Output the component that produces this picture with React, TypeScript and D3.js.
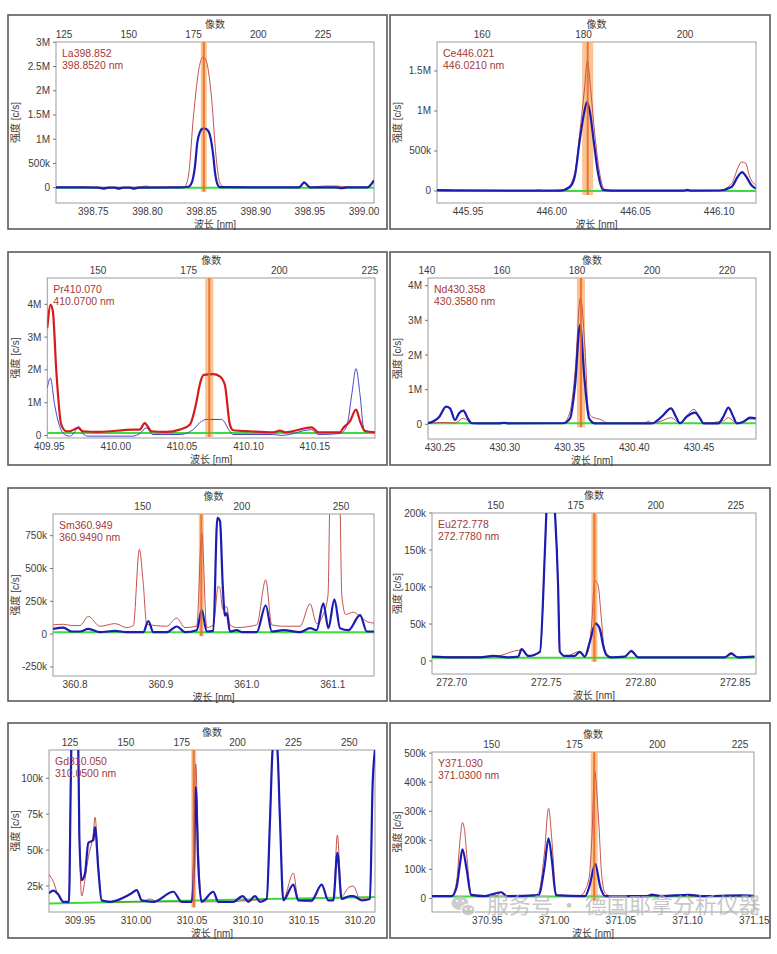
import { useRef, useEffect } from 'react';
import * as d3 from 'd3';

type Pt = [number, number]; // [wavelength nm, intensity kc/s]

// ---- La 398.852 ----
const laRed: Pt[] = [[398.7155, 10], [398.73, 12], [398.76, 8], [398.79, 10], [398.7993, 35], [398.803, 10], [398.834, 15], [398.8378, 240], [398.8424, 1460], [398.8479, 2500], [398.8516, 2700], [398.8545, 2600], [398.8593, 1820], [398.8633, 650], [398.8669, 100], [398.870, 20], [398.887, 15], [398.890, 8], [398.94, 8], [398.9425, 60], [398.9446, 100], [398.9475, 50], [398.95, 8], [398.958, 25], [398.965, 35], [398.972, 35], [398.98, 25], [398.99, 10], [399.003, 12], [399.0092, 150]];
const laBlue: Pt[] = [[398.7155, 5], [398.74, 5], [398.755, 0], [398.759, -18], [398.764, 2], [398.77, 0], [398.773, -18], [398.778, 2], [398.784, 0], [398.787, -18], [398.792, 2], [398.83, 5], [398.8378, 20], [398.8408, 100], [398.8439, 450], [398.846, 930], [398.8485, 1150], [398.8505, 1215], [398.853, 1220], [398.8555, 1190], [398.8578, 1070], [398.8608, 650], [398.8624, 310], [398.8645, 80], [398.867, 10], [398.94, 5], [398.9425, 60], [398.9446, 108], [398.9475, 55], [398.95, 5], [398.975, 5], [398.979, -12], [398.984, 5], [399.003, 8], [399.0092, 150]];
const laGreen: Pt[] = [[398.7155, 0], [399.0092, 0]];
const laWaveTicks = [398.75, 398.80, 398.85, 398.90, 398.95, 399.00];
const laPixelTicks = [125, 150, 175, 200, 225];
const laYTicks = [0, 500, 1000, 1500, 2000, 2500, 3000];

// ---- Ce 446.021 ----
const ceRed: Pt[] = [[445.9315, 8], [445.934, 18], [445.938, 18], [445.941, 6], [445.99, 5], [445.992, 14], [445.995, 5], [446.008, 15], [446.0137, 217], [446.0167, 717], [446.0197, 1300], [446.0213, 1630], [446.0233, 1260], [446.0257, 717], [446.0287, 217], [446.0317, 15], [446.035, 8], [446.10, 8], [446.1074, 90], [446.1114, 300], [446.1133, 362], [446.1157, 350], [446.1183, 175], [446.1219, 71]];
const ceBlue: Pt[] = [[445.9315, 10], [445.94, 7], [445.99, 5], [446.005, 5], [446.0108, 50], [446.0137, 175], [446.0167, 630], [446.0193, 970], [446.0211, 1110], [446.0227, 1000], [446.0253, 590], [446.0277, 220], [446.0307, 15], [446.036, 5], [446.079, 5], [446.081, 14], [446.083, 5], [446.10, 6], [446.1074, 50], [446.111, 175], [446.1137, 237], [446.1163, 175], [446.1193, 71], [446.1219, 30]];
const ceGreen: Pt[] = [[445.9315, 0], [446.1219, 0]];
const ceWaveTicks = [445.95, 446.00, 446.05, 446.10];
const cePixelTicks = [160, 180, 200];
const ceYTicks = [0, 500, 1000, 1500];

// ---- Pr 410.070 ----
const prRed: Pt[] = [[409.9485, 3270], [409.951, 3980], [409.9527, 3780], [409.9553, 1960], [409.959, 330], [409.9628, 130], [409.9653, 130], [409.9716, 230], [409.9753, 130], [409.9879, 110], [410.013, 180], [410.0181, 180], [410.0219, 380], [410.0269, 130], [410.0382, 110], [410.0483, 180], [410.0558, 330], [410.0609, 1040], [410.0633, 1550], [410.0664, 1850], [410.0734, 1870], [410.0784, 1800], [410.0822, 1550], [410.086, 330], [410.0885, 160], [410.1011, 130], [410.1187, 100], [410.1237, 150], [410.128, 100], [410.1476, 250], [410.1526, 100], [410.1689, 100], [410.1714, 230], [410.1765, 440], [410.181, 790], [410.184, 440], [410.1878, 130], [410.1953, 100]];
const prBlue: Pt[] = [[409.9485, 1450], [409.9508, 1750], [409.954, 940], [409.9578, 280], [409.9615, 30], [409.9653, -20], [409.9704, 180], [409.9721, 280], [409.9753, 60], [409.9791, -20], [410.013, -20], [410.0181, 60], [410.0231, 230], [410.0281, 30], [410.0483, 30], [410.0583, 180], [410.0633, 390], [410.0684, 490], [410.0797, 490], [410.086, 130], [410.0885, 30], [410.1187, 30], [410.125, 0], [410.1476, 180], [410.1526, 30], [410.1689, 60], [410.174, 280], [410.1778, 1250], [410.181, 2040], [410.184, 1250], [410.187, 180], [410.1953, 80]];
const prGreen: Pt[] = [[409.9485, 80], [410.1953, 80]];
const prWaveTicks = [409.95, 410.00, 410.05, 410.10, 410.15];
const prPixelTicks = [150, 175, 200, 225];
const prYTicks = [0, 1000, 2000, 3000, 4000];

// ---- Nd 430.358 ----
const ndRed: Pt[] = [[430.2407, 30], [430.2546, 55], [430.2616, 40], [430.268, 173], [430.2745, 35], [430.345, 30], [430.3504, 366], [430.3543, 1520], [430.3584, 3650], [430.3618, 2290], [430.3644, 462], [430.3671, 221], [430.3749, 125], [430.3795, 30], [430.4083, 40], [430.4108, 96], [430.4134, 35], [430.4212, 100], [430.4284, 192], [430.4353, 35], [430.4405, 250], [430.4461, 433], [430.4534, 35], [430.4688, 100], [430.4727, 192], [430.4792, 35], [430.4843, 70], [430.4894, 154], [430.4938, 154]];
const ndBlue: Pt[] = [[430.2407, 30], [430.2495, 220], [430.2546, 510], [430.2577, 460], [430.2616, 125], [430.2647, 320], [430.268, 395], [430.2714, 170], [430.2745, 30], [430.295, 25], [430.2995, 45], [430.303, 25], [430.345, 30], [430.3504, 173], [430.3543, 1140], [430.3581, 2870], [430.3615, 1330], [430.3651, 173], [430.3697, 29], [430.4134, 25], [430.4212, 221], [430.4284, 462], [430.432, 230], [430.4353, 29], [430.4405, 221], [430.4469, 337], [430.4508, 170], [430.4534, 29], [430.4649, 29], [430.4688, 221], [430.4727, 481], [430.4765, 221], [430.4792, 29], [430.4843, 77], [430.4894, 192], [430.4938, 173]];
const ndGreen: Pt[] = [[430.2407, 30], [430.4938, 30]];
const ndWaveTicks = [430.25, 430.30, 430.35, 430.40, 430.45];
const ndPixelTicks = [140, 160, 180, 200, 220];
const ndYTicks = [0, 1000, 2000, 3000, 4000];

// ---- Sm 360.949 ----
const smRed: Pt[] = [[360.7744, 70], [360.7864, 75], [360.7962, 65], [360.8058, 65], [360.8155, 135], [360.8291, 60], [360.8466, 80], [360.8602, 50], [360.8679, 65], [360.8749, 645], [360.8795, 380], [360.8834, 75], [360.9067, 60], [360.9184, 122], [360.928, 50], [360.9417, 60], [360.9475, 770], [360.9533, 50], [360.961, 70], [360.9668, 365], [360.9688, 350], [360.9719, 190], [360.9766, 210], [360.9804, 70], [360.9882, 50], [361.0115, 70], [361.022, 414], [361.029, 70], [361.0425, 60], [361.0619, 60], [361.0736, 231], [361.0813, 80], [361.089, 150], [361.0945, 300], [361.0965, 1000], [361.1025, 2200], [361.1085, 1000], [361.1105, 300], [361.115, 150], [361.124, 167], [361.1318, 135], [361.1396, 97], [361.1481, 84]];
const smBlue: Pt[] = [[360.7744, 40], [360.7864, 50], [360.7962, 20], [360.8058, 20], [360.8155, 40], [360.8291, 15], [360.8466, 25], [360.8602, 15], [360.8795, 15], [360.8853, 100], [360.8912, 15], [360.9067, 15], [360.9184, 58], [360.928, 15], [360.9417, 30], [360.9475, 185], [360.9533, 20], [360.961, 25], [360.9657, 885], [360.9688, 860], [360.9719, 380], [360.9746, 140], [360.9766, 160], [360.9804, 20], [360.9882, 30], [360.995, 15], [361.0115, 15], [361.022, 220], [361.029, 20], [361.0425, 30], [361.0619, 15], [361.0736, 45], [361.0813, 30], [361.089, 235], [361.0949, 45], [361.1019, 265], [361.1085, 45], [361.1182, 30], [361.1318, 145], [361.1396, 20], [361.1481, 20]];
const smGreen: Pt[] = [[360.7744, 15], [361.1481, 15]];
const smWaveTicks = [360.8, 360.9, 361.0, 361.1];
const smPixelTicks = [150, 200, 250];
const smYTicks = [-250, 0, 250, 500, 750];

// ---- Eu 272.778 ----
const euRed: Pt[] = [[272.6896, 6], [272.71, 6], [272.722, 6], [272.737, 15], [272.7405, 6], [272.7467, 12], [272.7493, 147], [272.7507, 240], [272.7521, 300], [272.7537, 240], [272.7563, 102], [272.7572, 12], [272.7599, 6], [272.7678, 13], [272.7704, 6], [272.7722, 12.5], [272.774, 48], [272.7757, 109], [272.7775, 102], [272.7792, 57], [272.781, 12.5], [272.7845, 5], [272.792, 6], [272.7951, 14.8], [272.7986, 5], [272.844, 5], [272.8479, 11.6], [272.8514, 5], [272.8602, 6]];
const euBlue: Pt[] = [[272.6896, 6], [272.70, 5], [272.715, 5], [272.722, 7], [272.73, 5], [272.7352, 6], [272.737, 16], [272.7405, 7], [272.7467, 12.5], [272.7493, 147], [272.7507, 240], [272.7521, 300], [272.7537, 240], [272.7563, 102], [272.7572, 13], [272.7599, 7], [272.7651, 7], [272.7678, 12.5], [272.7704, 6], [272.7731, 26], [272.7761, 50.6], [272.7783, 44], [272.7801, 21.5], [272.782, 8], [272.7845, 5], [272.7915, 6], [272.7951, 13.4], [272.7986, 5], [272.8444, 5], [272.8479, 10], [272.8514, 5], [272.8602, 6]];
const euGreen: Pt[] = [[272.6896, 4.5], [272.8602, 4.5]];
const euWaveTicks = [272.70, 272.75, 272.80, 272.85];
const euPixelTicks = [150, 175, 200, 225];
const euYTicks = [0, 50, 100, 150, 200];

// ---- Gd 310.050 ----
const gdRed: Pt[] = [[309.9223, 33], [309.9262, 28], [309.9307, 18], [309.9351, 14], [309.9401, 13], [309.9418, 100], [309.9435, 175], [309.9455, 200], [309.9476, 175], [309.9494, 60], [309.9515, 18], [309.9545, 30], [309.9574, 45], [309.9619, 62], [309.9634, 73], [309.9664, 40], [309.9693, 15], [309.98, 14], [309.995, 14], [310.005, 14], [310.012, 16], [310.02, 14], [310.0497, 14], [310.0518, 60], [310.0533, 110], [310.0557, 50], [310.0586, 14], [310.07, 14], [310.1167, 16], [310.1196, 70], [310.122, 120], [310.1241, 128], [310.1262, 120], [310.1286, 70], [310.1315, 16], [310.1405, 34], [310.1449, 15], [310.1568, 14], [310.1658, 26], [310.1717, 15], [310.1762, 15], [310.1798, 60.5], [310.1836, 18], [310.19, 24], [310.194, 25], [310.20, 16], [310.2089, 16], [310.2113, 96], [310.2134, 120]];
const gdBlue: Pt[] = [[309.9223, 20], [309.9262, 21.8], [309.9307, 19], [309.9351, 14], [309.9401, 14], [309.9418, 100], [309.9435, 175], [309.9455, 200], [309.9476, 175], [309.9494, 60], [309.9515, 29], [309.9545, 34], [309.9574, 55], [309.9619, 57], [309.9634, 66], [309.9664, 36], [309.9693, 15], [309.9768, 14], [309.9917, 18], [309.9961, 20], [310.0006, 22.2], [310.0051, 15], [310.0155, 14], [310.0333, 21], [310.0408, 14], [310.0497, 14], [310.0518, 38], [310.0533, 94], [310.0557, 38], [310.0586, 14], [310.069, 21], [310.0735, 14], [310.0869, 14], [310.0952, 18], [310.1003, 14], [310.1063, 18], [310.1107, 14], [310.1167, 16], [310.1196, 70], [310.122, 120], [310.1241, 128], [310.1262, 120], [310.1286, 70], [310.1315, 15], [310.1405, 26], [310.1449, 15], [310.1568, 15], [310.1658, 26], [310.1717, 15], [310.1762, 15], [310.1798, 48], [310.1836, 16], [310.1911, 18], [310.194, 18], [310.2015, 15], [310.2089, 16], [310.2113, 96], [310.2134, 120]];
const gdGreen: Pt[] = [[309.9223, 12.9], [310.2134, 17.4]];
const gdWaveTicks = [309.95, 310.00, 310.05, 310.10, 310.15, 310.20];
const gdPixelTicks = [125, 150, 175, 200, 225, 250];
const gdYTicks = [25, 50, 75, 100];

// ---- Y 371.030 ----
const yRed: Pt[] = [[370.9085, 8], [370.9233, 10], [370.927, 60], [370.9295, 200], [370.9313, 261], [370.933, 230], [370.9345, 150], [370.9378, 15], [370.940, 9], [370.957, 9], [370.9603, 21], [370.9645, 9], [370.985, 10], [370.9883, 20], [370.9928, 160], [370.9958, 310], [370.9983, 200], [371.0013, 20], [371.004, 9], [371.02, 10], [371.0233, 29], [371.0263, 75], [371.0283, 212], [371.0303, 437], [371.0333, 270], [371.0357, 75], [371.0383, 17], [371.042, 9], [371.068, 9], [371.0733, 15], [371.078, 9], [371.1497, 9]];
const yBlue: Pt[] = [[370.9085, 8], [370.9233, 8], [370.927, 40], [370.9295, 120], [370.9313, 169], [370.9345, 98], [370.9378, 12], [370.9483, 8], [370.9603, 21], [370.9645, 8], [370.9883, 11], [370.9928, 109], [370.9958, 207], [370.9983, 132], [371.0013, 11], [371.0233, 8], [371.0263, 40], [371.0308, 118], [371.0345, 40], [371.0383, 8], [371.07, 8], [371.0733, 12], [371.08, 8], [371.1008, 12], [371.11, 8], [371.14, 10], [371.1497, 9]];
const yGreen: Pt[] = [[370.9085, 6], [371.1497, 6]];
const yWaveTicks = [370.95, 371.00, 371.05, 371.10, 371.15];
const yPixelTicks = [150, 175, 200, 225];
const yYTicks = [0, 100, 200, 300, 400, 500];

interface Panel {
    id: string;
    title: string;
    sub: string;
    center: number;
    halfBand: number;
    frame: [number, number, number, number];
    plot: [number, number, number, number];
    wave: [number, number];
    pixel: [number, number];
    yDomain: [number, number];
    waveTicks: number[];
    waveDigits: number;
    pixelTicks: number[];
    yTicks: number[];
    red: Pt[];
    blue: Pt[];
    green: Pt[];
    redBold?: boolean;
}

const panels: Panel[] = [
    { id: 'la', title: 'La398.852', sub: '398.8520 nm', center: 398.852, halfBand: 0.0028,
      frame: [8, 15, 379, 214], plot: [56, 42, 374, 203], wave: [398.7155, 399.0092], pixel: [121.9, 244.7], yDomain: [-316, 3006],
      waveTicks: laWaveTicks, waveDigits: 2, pixelTicks: laPixelTicks, yTicks: laYTicks, red: laRed, blue: laBlue, green: laGreen },
    { id: 'ce', title: 'Ce446.021', sub: '446.0210 nm', center: 446.0215, halfBand: 0.0033,
      frame: [390, 15, 380, 214], plot: [437, 42, 756, 203], wave: [445.9315, 446.122], pixel: [151.1, 214.0], yDomain: [-150, 1862],
      waveTicks: ceWaveTicks, waveDigits: 2, pixelTicks: cePixelTicks, yTicks: ceYTicks, red: ceRed, blue: ceBlue, green: ceGreen },
    { id: 'pr', title: 'Pr410.070', sub: '410.0700 nm', center: 410.0705, halfBand: 0.0031,
      frame: [8, 252, 379, 213], plot: [47.3, 278, 375, 438], wave: [409.9485, 410.1953], pixel: [136.0, 226.4], yDomain: [-76, 4802],
      waveTicks: prWaveTicks, waveDigits: 2, pixelTicks: prPixelTicks, yTicks: prYTicks, red: prRed, blue: prBlue, green: prGreen, redBold: true },
    { id: 'nd', title: 'Nd430.358', sub: '430.3580 nm', center: 430.3588, halfBand: 0.0031,
      frame: [390, 252, 380, 213], plot: [428, 278, 756, 439], wave: [430.2407, 430.494], pixel: [140.3, 227.7], yDomain: [-424, 4222],
      waveTicks: ndWaveTicks, waveDigits: 2, pixelTicks: ndPixelTicks, yTicks: ndYTicks, red: ndRed, blue: ndBlue, green: ndGreen },
    { id: 'sm', title: 'Sm360.949', sub: '360.9490 nm', center: 360.947, halfBand: 0.0029,
      frame: [8, 488, 379, 213], plot: [53, 514, 374, 676], wave: [360.7744, 361.148], pixel: [104.8, 266.6], yDomain: [-319, 915],
      waveTicks: smWaveTicks, waveDigits: 1, pixelTicks: smPixelTicks, yTicks: smYTicks, red: smRed, blue: smBlue, green: smGreen },
    { id: 'eu', title: 'Eu272.778', sub: '272.7780 nm', center: 272.7755, halfBand: 0.0016,
      frame: [390, 488, 380, 213], plot: [432, 513, 756, 674], wave: [272.6896, 272.861], pixel: [130.1, 231.3], yDomain: [-17.5, 200],
      waveTicks: euWaveTicks, waveDigits: 2, pixelTicks: euPixelTicks, yTicks: euYTicks, red: euRed, blue: euBlue, green: euGreen },
    { id: 'gd', title: 'Gd310.050', sub: '310.0500 nm', center: 310.0515, halfBand: 0.0022,
      frame: [8, 723, 379, 215], plot: [49, 750, 375, 912], wave: [309.9223, 310.2134], pixel: [115.6, 261.5], yDomain: [6.9, 119.7],
      waveTicks: gdWaveTicks, waveDigits: 2, pixelTicks: gdPixelTicks, yTicks: gdYTicks, red: gdRed, blue: gdBlue, green: gdGreen },
    { id: 'y', title: 'Y371.030', sub: '371.0300 nm', center: 371.030, halfBand: 0.0026,
      frame: [390, 723, 380, 215], plot: [432, 752, 754, 912], wave: [370.9085, 371.1497], pixel: [132.0, 229.2], yDomain: [-47, 504],
      waveTicks: yWaveTicks, waveDigits: 2, pixelTicks: yPixelTicks, yTicks: yYTicks, red: yRed, blue: yBlue, green: yGreen },
];

const FONT = "'Liberation Sans', Arial, 'Noto Sans CJK SC', sans-serif";

const fmtIntensity = (v: number) => {
    if (v === 0) return '0';
    if (Math.abs(v) >= 1000) return `${v / 1000}M`;
    return `${v}k`;
};

function drawPanel(svg: d3.Selection<SVGSVGElement, unknown, null, undefined>, p: Panel) {
    const [fx, fy, fw, fh] = p.frame;
    const [x0, y0, x1, y1] = p.plot;
    const g = svg.append('g');

    g.append('rect')
        .attr('x', fx).attr('y', fy).attr('width', fw).attr('height', fh)
        .attr('fill', '#fff').attr('stroke', '#5a5a5a').attr('stroke-width', 1.6);

    const x = d3.scaleLinear().domain(p.wave).range([x0, x1]);
    const xp = d3.scaleLinear().domain(p.pixel).range([x0, x1]);
    const y = d3.scaleLinear().domain(p.yDomain).range([y1, y0]);

    g.append('rect')
        .attr('x', x0).attr('y', y0).attr('width', x1 - x0).attr('height', y1 - y0)
        .attr('fill', '#fff').attr('stroke', '#9c9c9c').attr('stroke-width', 1);

    g.append('clipPath').attr('id', `clip-${p.id}`)
        .append('rect').attr('x', x0).attr('y', y0).attr('width', x1 - x0).attr('height', y1 - y0);
    const inner = g.append('g').attr('clip-path', `url(#clip-${p.id})`);

    // integration window
    const base = y(p.green[0][1]) + 4;
    inner.append('rect')
        .attr('x', x(p.center - p.halfBand)).attr('y', y0)
        .attr('width', x(p.center + p.halfBand) - x(p.center - p.halfBand))
        .attr('height', base - y0)
        .attr('fill', '#f8bb82').attr('opacity', 0.85);

    const straight = d3.line<Pt>().x(d => x(d[0])).y(d => y(d[1]));
    const smooth = d3.line<Pt>().x(d => x(d[0])).y(d => y(d[1])).curve(d3.curveMonotoneX);

    inner.append('path').datum(p.green)
        .attr('d', straight).attr('fill', 'none')
        .attr('stroke', '#3ddc3d').attr('stroke-width', 2);

    const thin = p.redBold
        ? { data: p.blue, color: '#4646c6', width: 1 }
        : { data: p.red, color: '#c4524c', width: 1 };
    const thick = p.redBold
        ? { data: p.red, color: '#d41b1b', width: 2.2 }
        : { data: p.blue, color: '#1c1cb2', width: 2.2 };
    [thin, thick].forEach(s => {
        inner.append('path').datum(s.data)
            .attr('d', smooth).attr('fill', 'none')
            .attr('stroke', s.color).attr('stroke-width', s.width)
            .attr('stroke-linejoin', 'round');
    });

    inner.append('line')
        .attr('x1', x(p.center)).attr('x2', x(p.center))
        .attr('y1', y0).attr('y2', base)
        .attr('stroke', '#ee6a24').attr('stroke-width', 2).attr('opacity', 0.9);

    // element label
    g.append('text').attr('x', x0 + 6).attr('y', y0 + 15)
        .attr('font-family', FONT).attr('font-size', 10.5).attr('fill', '#a53a34')
        .text(p.title);
    g.append('text').attr('x', x0 + 6).attr('y', y0 + 27)
        .attr('font-family', FONT).attr('font-size', 10.5).attr('fill', '#a53a34')
        .text(p.sub);

    const txt = (sel: d3.Selection<SVGGElement, unknown, null, undefined>) =>
        sel.append('text')
            .attr('font-family', FONT).attr('font-size', 10)
            .attr('fill', '#3c3c3c').attr('dominant-baseline', 'central');

    // y axis
    p.yTicks.forEach(v => {
        g.append('line').attr('x1', x0 - 3).attr('x2', x0).attr('y1', y(v)).attr('y2', y(v))
            .attr('stroke', '#777').attr('stroke-width', 1);
        txt(g).attr('x', x0 - 6).attr('y', y(v)).attr('text-anchor', 'end').text(fmtIntensity(v));
    });

    // bottom wavelength axis
    const wf = d3.format(`.${p.waveDigits}f`);
    p.waveTicks.forEach(v => {
        txt(g).attr('x', x(v)).attr('y', y1 + 8.5).attr('text-anchor', 'middle').text(wf(v));
    });

    // top pixel axis
    p.pixelTicks.forEach(v => {
        txt(g).attr('x', xp(v)).attr('y', y0 - 7.5).attr('text-anchor', 'middle').text(String(v));
    });

    txt(g).attr('x', (x0 + x1) / 2).attr('y', y0 - 17.5).attr('text-anchor', 'middle').text('像数');
    txt(g).attr('x', (x0 + x1) / 2).attr('y', y1 + 21).attr('text-anchor', 'middle').text('波长 [nm]');
    txt(g).attr('text-anchor', 'middle')
        .attr('transform', `translate(${fx + 7.5},${(y0 + y1) / 2}) rotate(-90)`)
        .text('强度 [c/s]');
}

export default function App() {
    const svgRef = useRef<SVGSVGElement | null>(null);

    useEffect(() => {
        if (!svgRef.current) return;
        const svg = d3.select(svgRef.current);
        svg.selectAll('*').remove();

        svg.append('rect').attr('width', 777).attr('height', 954).attr('fill', '#fff');
        panels.forEach(p => drawPanel(svg, p));

        // watermark
        const wm = svg.append('g').attr('opacity', 0.75);
        wm.append('ellipse').attr('cx', 460).attr('cy', 903).attr('rx', 8.5).attr('ry', 7).attr('fill', '#bdbdbd');
        wm.append('ellipse').attr('cx', 468).attr('cy', 910).attr('rx', 7).attr('ry', 5.8)
            .attr('fill', '#bdbdbd').attr('stroke', '#fff').attr('stroke-width', 1.2);
        [[457, 901], [463, 901], [466, 909], [471, 909]].forEach(([cx, cy]) => {
            wm.append('circle').attr('cx', cx).attr('cy', cy).attr('r', 1.1).attr('fill', '#fff');
        });
        wm.append('text').attr('x', 487).attr('y', 913)
            .attr('font-family', "'Noto Sans CJK SC', sans-serif").attr('font-size', 22)
            .attr('fill', '#b5b5b5').text('服务号 · 德国耶拿分析仪器');
    }, []);

    return (
        <svg ref={svgRef} width={777} height={954}
            style={{ position: 'absolute', left: 0, top: 0, display: 'block' }} />
    );
}
